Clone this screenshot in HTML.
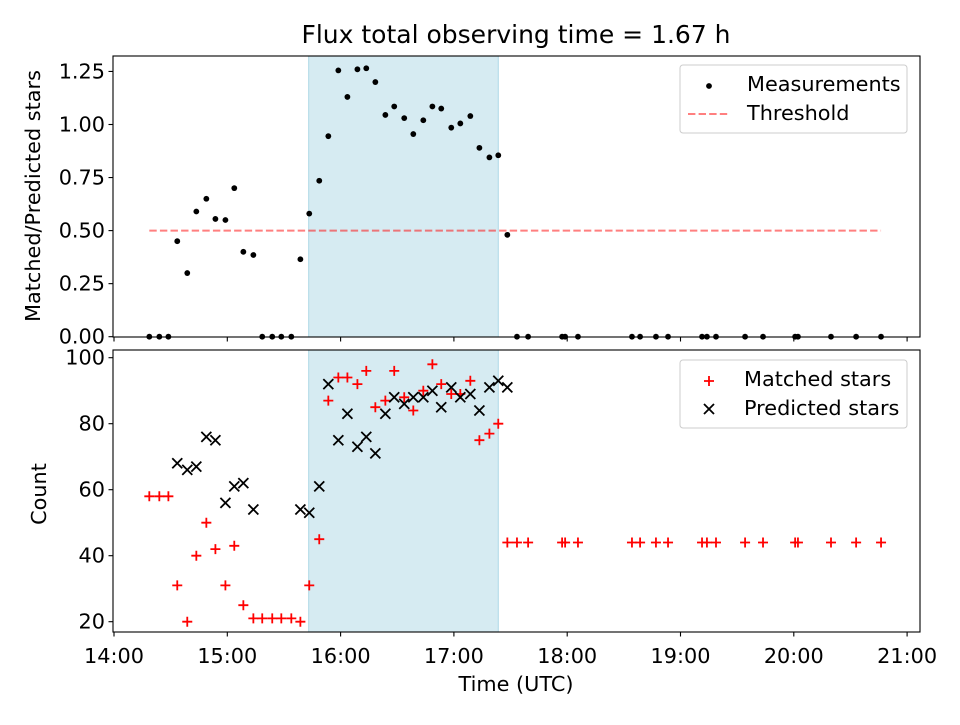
<!DOCTYPE html>
<html><head><meta charset="utf-8"><style>
body{margin:0;background:#fff;font-family:"Liberation Sans","DejaVu Sans",sans-serif}
svg text{font-family:"DejaVu Sans","Liberation Sans",sans-serif;fill:#000}
</style></head><body>
<svg id="c" width="960" height="720" xmlns="http://www.w3.org/2000/svg"></svg>
<script>
const NS="http://www.w3.org/2000/svg";
// data (time in minutes after 14:00 UTC)
const ratioTimes=[18.7,24,28.8,33.5,38.8,43.6,48.9,53.7,59,63.7,68.5,73.8,78.5,83.8,88.6,93.9,98.7,103.4,108.7,113.5,118.8,123.6,128.9,133.6,138.4,143.7,148.4,153.7,158.5,163.8,168.6,173.3,178.6,183.4,188.7,193.5,198.8,203.5,208.3,213.4,219.3,237.3,238.9,245.7,274.3,278.6,287,293.4,311.4,314,318.8,334.2,343.7,360.7,362.2,379.7,393,406.2];
const ratioValues=[0,0,0,0.45,0.30,0.59,0.65,0.555,0.55,0.70,0.40,0.385,0,0,0,0,0.365,0.58,0.735,0.945,1.255,1.13,1.26,1.265,1.20,1.045,1.085,1.03,0.955,1.02,1.085,1.075,0.985,1.005,1.04,0.89,0.845,0.855,0.48,0,0,0,0,0,0,0,0,0,0,0,0,0,0,0,0,0,0,0];
const matchedValues=[58,58,58,31,20,40,50,42,31,43,25,21,21,21,21,21,20,31,45,87,94,94,92,96,85,87,96,88,84,90,98,92,89,89,93,75,77,80,44,44,44,44,44,44,44,44,44,44,44,44,44,44,44,44,44,44,44,44];
const predTimes=[33.5,38.8,43.6,48.9,53.7,59,63.7,68.5,73.8,98.7,103.4,108.7,113.5,118.8,123.6,128.9,133.6,138.4,143.7,148.4,153.7,158.5,163.8,168.6,173.3,178.6,183.4,188.7,193.5,198.8,203.5,208.3];
const predValues=[68,66,67,76,75,56,61,62,54,54,53,61,92,75,83,73,76,71,83,88,86,88,88,90,85,91,88,89,84,91,93,91];
const threshold=0.5, thrStart=18.7, thrEnd=406.2;
const spanStart=103.1, spanEnd=203.5;
const xTickLabels=["14:00","15:00","16:00","17:00","18:00","19:00","20:00","21:00"];
const topTicks=[0,0.25,0.5,0.75,1.0,1.25];
const botTicks=[20,40,60,80,100];

const FS=20.8, FT=25;
const L=113,R=920,T1=56,B1=337,T2=350,B2=632;
const X=m=>114+m*113.3/60;
const Y1=v=>336.7-v*212.2;
const Y2=v=>357.7+(100-v)*3.3;
const svg=document.getElementById('c');
function el(t,a,p){const e=document.createElementNS(NS,t);for(const k in a)e.setAttribute(k,a[k]);(p||svg).appendChild(e);return e;}
function txt(s,a,p){const e=el('text',a,p);e.textContent=s;return e;}

let e;
e=txt("Flux total observing time = 1.67 h",{x:516,y:43,"font-size":FT,"text-anchor":"middle"});


[[T1,B1],[T2,B2]].forEach(([t,b],i)=>{
 e=el('rect',{x:X(spanStart),y:t,width:X(spanEnd)-X(spanStart),height:b-t,fill:"#add8e6","fill-opacity":"0.5",stroke:"#add8e6","stroke-width":1});
 
});

e=el('line',{x1:X(thrStart),x2:X(thrEnd),y1:Y1(threshold),y2:Y1(threshold),stroke:"#ff0000","stroke-opacity":"0.5","stroke-width":2,"stroke-dasharray":"7.4,3.2"});


ratioTimes.forEach((t,i)=>{
 const d=el('circle',{cx:X(t),cy:Y1(ratioValues[i]),r:2.9,fill:"#000"});
 
 
});
ratioTimes.forEach((t,i)=>{
 const x=X(t),y=Y2(matchedValues[i]);
 const p=el('path',{d:`M${x-5},${y}H${x+5}M${x},${y-5}V${y+5}`,stroke:"#ff0000","stroke-width":1.8,fill:"none"});
 
 
});
predTimes.forEach((t,i)=>{
 const x=X(t),y=Y2(predValues[i]),s=5;
 const p=el('path',{d:`M${x-s},${y-s}L${x+s},${y+s}M${x-s},${y+s}L${x+s},${y-s}`,stroke:"#000","stroke-width":1.8,fill:"none"});
 
 
});

[[T1,B1],[T2,B2]].forEach(([t,b],i)=>{
 e=el('rect',{x:L,y:t,width:R-L,height:b-t,fill:"none",stroke:"#000","stroke-width":1.1});
 
 xTickLabels.forEach((s,k)=>{
  const x=X(k*60);
  el('line',{x1:x,x2:x,y1:b,y2:b+4.5,stroke:"#000","stroke-width":1.1});
  if(i){const tl=txt(s,{x:x,y:663,"font-size":FS,"text-anchor":"middle"});
   }
 });
});
topTicks.forEach(v=>{
 const y=Y1(v);
 el('line',{x1:L-4.5,x2:L,y1:y,y2:y,stroke:"#000","stroke-width":1.1});
 const tl=txt(v.toFixed(2),{x:L-8,y:y+7,"font-size":FS,"text-anchor":"end"});
 
});
botTicks.forEach(v=>{
 const y=Y2(v);
 el('line',{x1:L-4.5,x2:L,y1:y,y2:y,stroke:"#000","stroke-width":1.1});
 const tl=txt(String(v),{x:L-8,y:y+7,"font-size":FS,"text-anchor":"end"});
 
});
e=txt("Matched/Predicted stars",{x:0,y:0,"font-size":FS,"text-anchor":"middle",transform:"translate(40,196) rotate(-90)"});

e=txt("Count",{x:0,y:0,"font-size":FS,"text-anchor":"middle",transform:"translate(46,494) rotate(-90)"});

e=txt("Time (UTC)",{x:516,y:691,"font-size":FS,"text-anchor":"middle"});


function legend(y0,name){const g=el('g',{});
 el('rect',{x:680,y:y0,width:227,height:68,rx:3,fill:"#fff","fill-opacity":"0.8",stroke:"#ccc","stroke-width":1},g);return g;}
let g=legend(65,'ratio-legend');
el('circle',{cx:709,cy:86,r:2.9,fill:"#000"},g);
txt("Measurements",{x:747,y:91,"font-size":FS},g);
el('line',{x1:688,x2:730,y1:114,y2:114,stroke:"#ff0000","stroke-opacity":"0.5","stroke-width":2,"stroke-dasharray":"7.4,3.2"},g);
txt("Threshold",{x:747,y:120,"font-size":FS},g);
g=legend(360,'count-legend');
el('path',{d:"M704,381H714M709,376V386",stroke:"#ff0000","stroke-width":1.8},g);
txt("Matched stars",{x:744,y:386,"font-size":FS},g);
el('path',{d:"M704,404L714,414M704,414L714,404",stroke:"#000","stroke-width":1.8},g);
txt("Predicted stars",{x:744,y:415,"font-size":FS},g);
</script>
</body></html>
